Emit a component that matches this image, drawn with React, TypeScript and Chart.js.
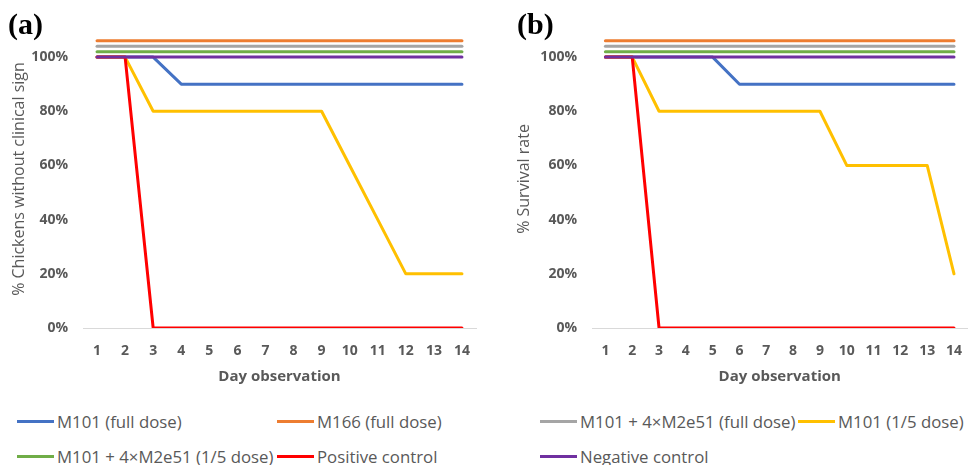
import React, { useEffect, useRef } from 'react';
import { Chart, registerables } from 'chart.js';
Chart.register(...registerables);

const days = ['1', '2', '3', '4', '5', '6', '7', '8', '9', '10', '11', '12', '13', '14'];

const seriesNames = [
  'M101 (full dose)',
  'M166 (full dose)',
  'M101 + 4×M2e51 (full dose)',
  'M101 (1/5 dose)',
  'M101 + 4×M2e51 (1/5 dose)',
  'Positive control',
  'Negative control',
];
const seriesColors = ['#4472C4', '#ED7D31', '#A5A5A5', '#FFC000', '#70AD47', '#FF0000', '#7030A0'];

// Panel (a): % chickens without clinical sign
const m101FullA = [100, 100, 100, 90, 90, 90, 90, 90, 90, 90, 90, 90, 90, 90];
const m166FullA = [106, 106, 106, 106, 106, 106, 106, 106, 106, 106, 106, 106, 106, 106];
const m101M2e51FullA = [104, 104, 104, 104, 104, 104, 104, 104, 104, 104, 104, 104, 104, 104];
const m101FifthA = [100, 100, 80, 80, 80, 80, 80, 80, 80, 60, 40, 20, 20, 20];
const m101M2e51FifthA = [102, 102, 102, 102, 102, 102, 102, 102, 102, 102, 102, 102, 102, 102];
const positiveA = [100, 100, 0, 0, 0, 0, 0, 0, 0, 0, 0, 0, 0, 0];
const negativeA = [100, 100, 100, 100, 100, 100, 100, 100, 100, 100, 100, 100, 100, 100];

// Panel (b): % survival rate
const m101FullB = [100, 100, 100, 100, 100, 90, 90, 90, 90, 90, 90, 90, 90, 90];
const m166FullB = [106, 106, 106, 106, 106, 106, 106, 106, 106, 106, 106, 106, 106, 106];
const m101M2e51FullB = [104, 104, 104, 104, 104, 104, 104, 104, 104, 104, 104, 104, 104, 104];
const m101FifthB = [100, 100, 80, 80, 80, 80, 80, 80, 80, 60, 60, 60, 60, 20];
const m101M2e51FifthB = [102, 102, 102, 102, 102, 102, 102, 102, 102, 102, 102, 102, 102, 102];
const positiveB = [100, 100, 0, 0, 0, 0, 0, 0, 0, 0, 0, 0, 0, 0];
const negativeB = [100, 100, 100, 100, 100, 100, 100, 100, 100, 100, 100, 100, 100, 100];

const yTicksMax = 100;
const yAxisMax = 110;
const yStep = 20;

const panelA = [m101FullA, m166FullA, m101M2e51FullA, m101FifthA, m101M2e51FifthA, positiveA, negativeA];
const panelB = [m101FullB, m166FullB, m101M2e51FullB, m101FifthB, m101M2e51FifthB, positiveB, negativeB];

const FONT = "'Open Sans', 'Noto Sans', sans-serif";
const GRAY = '#595959';

type PanelProps = {
  series: number[][];
  yTitle: string;
  width: number;
  height: number;
  yWidth: number;
  titlePadTop: number;
  padRight: number;
};

function Panel({ series, yTitle, width, height, yWidth, titlePadTop, padRight }: PanelProps) {
  const ref = useRef<HTMLCanvasElement | null>(null);
  useEffect(() => {
    if (!ref.current) return;
    const chart = new Chart(ref.current, {
      type: 'line',
      data: {
        labels: days,
        datasets: series.map((vals, i) => ({
          label: seriesNames[i],
          data: vals,
          borderColor: seriesColors[i],
          backgroundColor: seriesColors[i],
          borderWidth: 3,
          pointRadius: 0,
          tension: 0,
          fill: false,
          order: series.length - 1 - i,
          borderJoinStyle: 'round',
          borderCapStyle: 'round',
        })),
      },
      options: {
        responsive: false,
        maintainAspectRatio: false,
        animation: false,
        layout: { padding: { top: 30, right: padRight, left: 0, bottom: 0 } },
        plugins: { legend: { display: false }, tooltip: { enabled: false } },
        scales: {
          x: {
            type: 'category',
            offset: true,
            grid: { display: false, drawTicks: false },
            border: { display: true, color: '#d9d9d9', width: 1 },
            ticks: {
              color: GRAY,
              font: { family: FONT, size: 14, weight: 'bold' },
              padding: 15,
              maxRotation: 0,
              autoSkip: false,
            },
            title: {
              display: true,
              text: 'Day observation',
              color: GRAY,
              font: { family: FONT, size: 15, weight: 'bold' },
              padding: { top: 4, bottom: 14 },
            },
            afterFit: (s: any) => {
              s.height = 72;
            },
          },
          y: {
            min: 0,
            max: yAxisMax,
            ticks: {
              stepSize: yStep,
              callback: (v: any) => v + '%',
              color: GRAY,
              font: { family: FONT, size: 14, weight: 'bold' },
              padding: 15,
            },
            grid: { display: false, drawTicks: false },
            border: { display: false },
            title: {
              display: true,
              text: yTitle,
              color: GRAY,
              font: { family: FONT, size: 16 },
              padding: { top: titlePadTop, bottom: 0 },
            },
            afterBuildTicks: (s: any) => {
              s.ticks = s.ticks.filter((t: any) => t.value <= yTicksMax);
            },
            afterFit: (s: any) => {
              s.width = yWidth;
            },
          },
        },
      } as any,
    });
    return () => chart.destroy();
  }, []);
  return <canvas ref={ref} width={width} height={height} style={{ display: 'block' }} />;
}

const legendItems = [
  { idx: 0, left: 17, row: 0 },
  { idx: 1, left: 277, row: 0 },
  { idx: 2, left: 540, row: 0 },
  { idx: 3, left: 798, row: 0 },
  { idx: 4, left: 17, row: 1 },
  { idx: 5, left: 277, row: 1 },
  { idx: 6, left: 540, row: 1 },
];
const legendRowY = [421, 456];

export default function App() {
  return (
    <div style={{ position: 'absolute', left: 0, top: 0, width: 977, height: 465, background: '#fff', overflow: 'hidden' }}>
      <div style={{ position: 'absolute', left: 0, top: 0 }}>
        <Panel series={panelA} yTitle="% Chickens without clinical sign" width={490} height={400} yWidth={83} titlePadTop={10} padRight={14} />
      </div>
      <div style={{ position: 'absolute', left: 490, top: 0 }}>
        <Panel series={panelB} yTitle="% Survival rate" width={487} height={400} yWidth={102} titlePadTop={25} padRight={0} />
      </div>
      <div style={{ position: 'absolute', left: 8, top: 9, font: "bold 30px 'Liberation Serif', serif", lineHeight: '30px', color: '#000' }}>(a)</div>
      <div style={{ position: 'absolute', left: 517, top: 9, font: "bold 30px 'Liberation Serif', serif", lineHeight: '30px', color: '#000' }}>(b)</div>
      {legendItems.map((it) => (
        <div
          key={it.idx}
          style={{
            position: 'absolute',
            left: it.left,
            top: legendRowY[it.row] - 11,
            height: 22,
            display: 'flex',
            alignItems: 'center',
            whiteSpace: 'nowrap',
          }}
        >
          <span style={{ display: 'inline-block', width: 37, height: 3, background: seriesColors[it.idx], marginRight: 3 }} />
          <span style={{ font: `16.8px ${FONT}`, color: GRAY }}>{seriesNames[it.idx]}</span>
        </div>
      ))}
    </div>
  );
}
